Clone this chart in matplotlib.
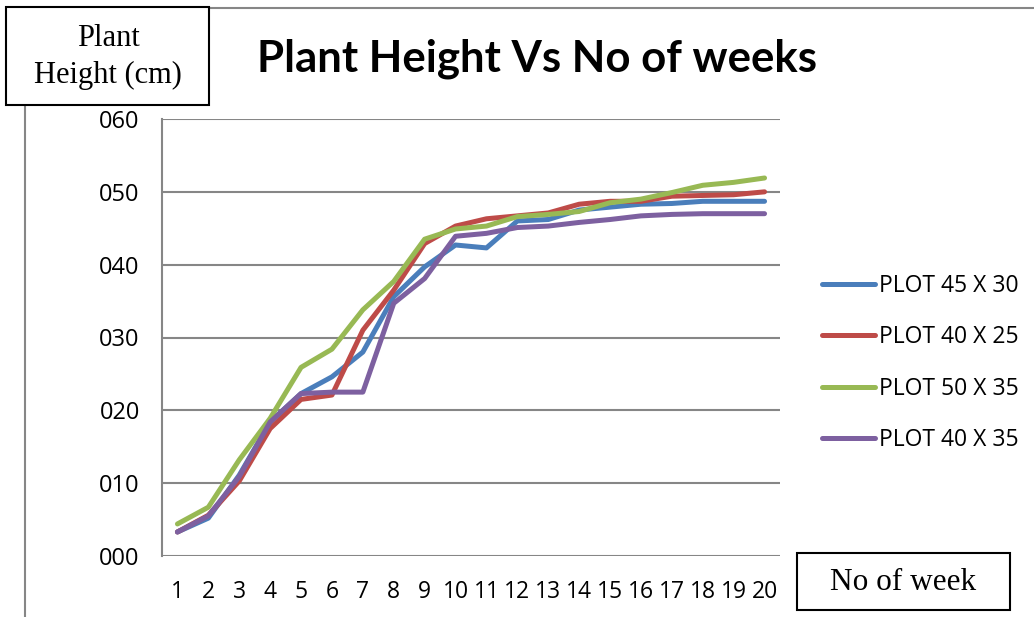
import matplotlib
matplotlib.use("Agg")
import matplotlib.pyplot as plt
from matplotlib.lines import Line2D
from matplotlib.patches import Rectangle

weeks = list(range(1, 21))
plot_45x30 = [3.3, 5.2, 11.1, 18.4, 22.3, 24.6, 28.0, 35.6, 39.7, 42.7,
              42.3, 46.0, 46.2, 47.5, 47.9, 48.3, 48.4, 48.7, 48.7, 48.7]
plot_40x25 = [3.3, 5.6, 10.3, 17.5, 21.5, 22.1, 31.0, 36.5, 42.9, 45.3,
              46.3, 46.7, 47.1, 48.3, 48.7, 48.7, 49.4, 49.5, 49.6, 50.0]
plot_50x35 = [4.4, 6.7, 13.2, 18.9, 25.9, 28.4, 33.8, 37.7, 43.5, 44.9,
              45.3, 46.6, 46.9, 47.3, 48.5, 49.0, 49.9, 50.9, 51.3, 51.9]
plot_40x35 = [3.3, 5.5, 10.9, 18.4, 22.3, 22.5, 22.5, 34.7, 38.1, 43.9,
              44.3, 45.1, 45.3, 45.8, 46.2, 46.7, 46.9, 47.0, 47.0, 47.0]
series_names = ["PLOT 45 X 30", "PLOT 40 X 25", "PLOT 50 X 35", "PLOT 40 X 35"]
series_values = [plot_45x30, plot_40x25, plot_50x35, plot_40x35]
colors = ["#4A7EBB", "#BE4B48", "#98B954", "#7D60A0"]
y_ticks = [0, 10, 20, 30, 40, 50, 60]
y_tick_labels = ["000", "010", "020", "030", "040", "050", "060"]

W, H = 1034, 617
fig = plt.figure(figsize=(W / 100, H / 100), dpi=100)
ax = fig.add_axes([162 / W, 1 - 556 / H, (780 - 162) / W, (556 - 119) / H])

for name, vals, c in zip(series_names, series_values, colors):
    ax.plot(weeks, vals, color=c, lw=3.6, label=name, solid_capstyle="round",
            solid_joinstyle="round", zorder=3)

ax.set_xlim(0.5, 20.5)
ax.set_ylim(0, 60)
ax.set_yticks(y_ticks)
ax.set_yticklabels(y_tick_labels, family="Open Sans", fontsize=17)
ax.set_xticks(weeks)
ax.set_xticklabels([str(w) for w in weeks], family="Open Sans", fontsize=16.5)
ax.tick_params(axis="both", length=0)
ax.tick_params(axis="y", pad=16)
ax.tick_params(axis="x", pad=17)
ax.grid(axis="y", color="#868686", lw=1.5, zorder=1)
for s in ["top", "right", "bottom"]:
    ax.spines[s].set_visible(False)
ax.spines["left"].set_color("#868686")
ax.spines["left"].set_linewidth(1.5)

leg = fig.legend(loc="upper left", bbox_to_anchor=(822 / W, 1 - 274 / H),
                 frameon=False, prop={"family": "Open Sans", "size": 16.5},
                 handlelength=2.3, handletextpad=0.2, labelspacing=1.19,
                 borderpad=0, borderaxespad=0)

# chart border lines
fig.add_artist(Line2D([210 / W, 1033 / W], [1 - 8 / H, 1 - 8 / H],
                      color="#868686", lw=1.5))
fig.add_artist(Line2D([25 / W, 25 / W], [0, 1 - 105 / H],
                      color="#868686", lw=1.5))

# title
fig.text(537 / W, 1 - 59 / H, "Plant Height Vs No of weeks", ha="center",
         va="center", family="Lato", weight="bold", fontsize=31.5)

# y-axis label box
fig.add_artist(Rectangle((6 / W, 1 - 105 / H), 203 / W, 98 / H,
                         transform=fig.transFigure, fill=True, fc="white",
                         ec="black", lw=1.5, zorder=5))
fig.text(108 / W, 1 - 57 / H, "Plant\nHeight (cm)", ha="center", va="center",
         family="Liberation Serif", fontsize=22, linespacing=1.4, zorder=6)

# x-axis label box
fig.add_artist(Rectangle((797 / W, 1 - 610 / H), 213 / W, 57 / H,
                         transform=fig.transFigure, fill=True, fc="white",
                         ec="black", lw=1.5, zorder=5))
fig.text(903 / W, 1 - 582 / H, "No of week", ha="center", va="center",
         family="Liberation Serif", fontsize=22.5, zorder=6)

fig.savefig("out.png", dpi=100)
